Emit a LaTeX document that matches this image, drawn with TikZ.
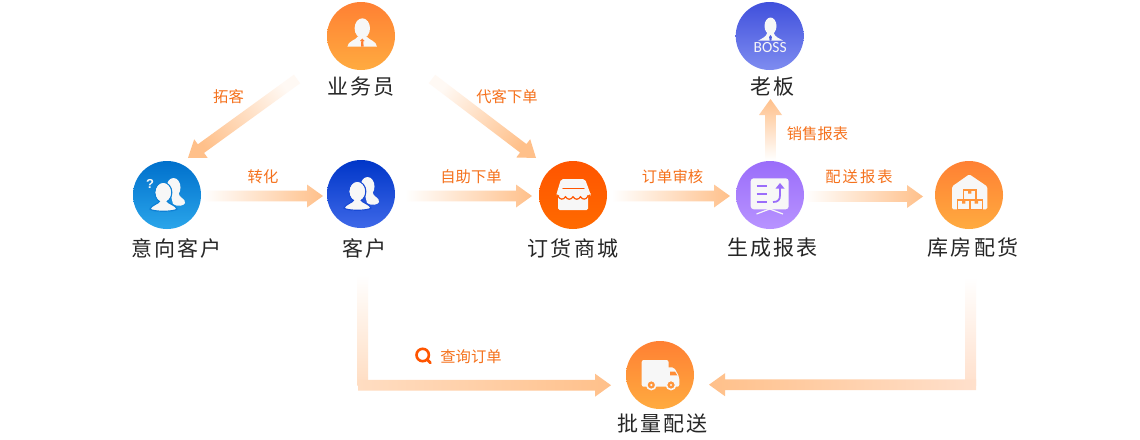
\documentclass[tikz,border=0pt]{standalone}
\usepackage{fontspec}
\usetikzlibrary{calc}
\setmainfont{Liberation Sans}
\newfontfamily\darkfont[LetterSpace=10]{Noto Sans CJK SC}
\newfontfamily\orgfont{Noto Sans CJK SC}
\newfontfamily\orgwide[LetterSpace=13]{Noto Sans CJK SC}
\newfontfamily\bossfont{Carlito}
\definecolor{arrowc}{HTML}{FFC08A}
\definecolor{icw}{HTML}{F7F7F7}
\definecolor{lab}{HTML}{F5711C}
\definecolor{tA}{HTML}{FFDDC2}\definecolor{tB}{HTML}{FFE0CC}\definecolor{tC}{HTML}{FFF9F4}
\definecolor{oA}{HTML}{FF8033}\definecolor{oB}{HTML}{FFAB40}
\definecolor{bA}{HTML}{0070CC}\definecolor{bB}{HTML}{2AA5EA}
\definecolor{dA}{HTML}{0036C8}\definecolor{dB}{HTML}{3E68E8}
\definecolor{rA}{HTML}{FF5500}\definecolor{rB}{HTML}{FF6A00}
\definecolor{pA}{HTML}{9A6DFA}\definecolor{pB}{HTML}{B893FF}
\definecolor{iA}{HTML}{4050DC}\definecolor{iB}{HTML}{7E8CF0}
\tikzset{
  ball/.style={circle,minimum size=68pt,inner sep=0pt,outer sep=0pt},
  title/.style={font=\darkfont\fontsize{21}{24}\selectfont,text=black!85,inner sep=0pt},
  tag/.style={font=\orgfont\fontsize{15.3}{18}\selectfont,text=lab,inner sep=0pt},
  tagw/.style={font=\orgwide\fontsize{15.3}{18}\selectfont,text=lab,inner sep=0pt},
}
% gradient block arrow between two named coordinates
\newcommand{\garrow}[4][white]{%
  \path let \p1=($(#3)-(#2)$),\n1={atan2(\y1,\x1)},\n2={veclen(\x1,\y1)} in
    \pgfextra{\xdef\gang{\n1}\xdef\glen{\n2}};
  \pgfmathsetmacro{\gshad}{\gang-90}
  \shade[shift={(#2)},rotate=\gang,bottom color=#1,top color=#4,shading angle=\gshad]
    (0,-5.3) -- (\glen-16,-5.3) -- (\glen-16,-11.5) -- (\glen,0) -- (\glen-16,11.5)
    -- (\glen-16,5.3) -- (0,5.3) -- cycle;
}
\newcommand{\groupicon}[1]{%
  \fill[icw] (6.5,-7.5) ellipse [x radius=7,y radius=9.5];
  \fill[icw] (3,-3) -- (11,-3) .. controls (12,3) and (19,4) .. (18,8)
    .. controls (17,11) and (10,12) .. (6,9) -- cycle;
  \fill[icw,draw=#1,line width=1.2pt] (-3.7,-2.5) ellipse [x radius=8.5,y radius=10];
  \fill[icw,draw=#1,line width=1.2pt] (-17,14) .. controls (-16,10) and (-8,9) .. (-6.5,5)
    -- (-1,5) .. controls (1,9) and (9,10) .. (10,14)
    .. controls (8,17) and (-15,17) .. (-17,14) -- cycle;
  \fill[icw] (-3.7,-2.5) ellipse [x radius=7.5,y radius=9.5];
  \fill[icw] (-6.3,3) rectangle (-1.2,8);
}
\begin{document}
\begin{tikzpicture}[x=1pt,y=-1pt]
\useasboundingbox (0,0) rectangle (1140,439);
\fill[white] (0,0) rectangle (1140,439);

% balls
\node[ball,top color=oA,bottom color=oB] (ywy) at (361,36) {};
\node[ball,top color=bA,bottom color=bB] (yxkh) at (167,195) {};
\node[ball,top color=dA,bottom color=dB] (kh) at (361,194) {};
\node[ball,top color=rA,bottom color=rB] (dhsc) at (573,195) {};
\node[ball,top color=pA,bottom color=pB] (scbb) at (770,195) {};
\node[ball,top color=iA,bottom color=iB] (lb) at (769.7,36) {};
\node[ball,top color=oA,bottom color=oB] (kfph) at (969,195) {};
\node[ball,top color=oA,bottom color=oB] (plps) at (660,375) {};

% titles
\node[title] (tywy) at (361,87) {业务员};
\node[title] (tyxkh) at (176.7,248) {意向客户};
\node[title] (tkh) at (364.5,248) {客户};
\node[title] (tdhsc) at (573,248) {订货商城};
\node[title] (tscbb) at (772.5,248) {生成报表};
\node[title] (tlb) at (772.5,87) {老板};
\node[title] (tkfph) at (973,248) {库房配货};
\node[title] (tplps) at (662.5,424) {批量配送};

% tags
\node[tag] (l1) at (228.5,97) {拓客};
\node[tag] (l2) at (263,176.5) {转化};
\node[tag] (l3) at (507,96.5) {代客下单};
\node[tag] (l4) at (471,176.5) {自助下单};
\node[tag] (l5) at (672.5,176.5) {订单审核};
\node[tagw] (l6) at (859,176.5) {配送报表};
\node[tag] (l7) at (817.5,133.5) {销售报表};
\node[tag] (l8) at (471,356.5) {查询订单};

% connector ends
\coordinate (a1s) at (297,79);   \coordinate (a1t) at (188,158);
\coordinate (a2s) at (432,79);   \coordinate (a2t) at (536,158);
\coordinate (a3s) at (203,196);  \coordinate (a3t) at (323,196);
\coordinate (a4s) at (405,196);  \coordinate (a4t) at (532,196);
\coordinate (a5s) at (612,196);  \coordinate (a5t) at (730,196);
\coordinate (a6s) at (805,196.5);\coordinate (a6t) at (923,196.5);
\coordinate (a7s) at (770.5,160);\coordinate (a7t) at (770.5,99);
\coordinate (b3)  at (358,385.2);\coordinate (b4)  at (611,385.2);
\coordinate (c3)  at (976,384.7);\coordinate (c4)  at (709,384.7);

\garrow[tC]{a1s}{a1t}{arrowc}
\garrow[tC]{a2s}{a2t}{arrowc}
\garrow{a3s}{a3t}{arrowc}
\garrow{a4s}{a4t}{arrowc}
\garrow{a5s}{a5t}{arrowc}
\garrow{a6s}{a6t}{arrowc}
\garrow{a7s}{a7t}{arrowc}

% bent connectors
\shade[bottom color=white,top color=tA,shading angle=180] (357.4,275) rectangle (368,385);
\garrow[tA]{b3}{b4}{arrowc}
\shade[bottom color=white,top color=tB,shading angle=180] (965.5,277) rectangle (976,385);
\garrow[tB]{c3}{c4}{arrowc}

% search icon
\draw[rA,line width=2.6pt] (422.7,355) circle [radius=6.2];
\draw[rA,line width=2.8pt,line cap=round] (427.3,359.5) -- (430.3,362.8);

% salesman icon
\begin{scope}[shift={(ywy.center)}]
  \fill[icw] (1.3,-7.7) ellipse [x radius=7.7,y radius=10];
  \fill[icw] (-13.7,10.7) .. controls (-13,5) and (-5,4) .. (-3,0.5) -- (5.5,0.5)
    .. controls (8,4) and (15.5,5) .. (16,10.7) -- cycle;
  \fill[oA] (1.3,2.5) -- (3.6,5) -- (2.3,5) -- (2.6,10.7) -- (0,10.7) -- (0.3,5) -- (-1,5) -- cycle;
\end{scope}

% boss icon
\begin{scope}[shift={(lb.center)}]
  \fill[icw] (0.8,-10) ellipse [x radius=6,y radius=8.5];
  \fill[icw] (-11.5,4.7) .. controls (-8,2.5) and (-3.5,1) .. (-2.5,-3) -- (4,-3)
    .. controls (5,1) and (10,2.5) .. (13.5,4.7) -- cycle;
  \fill[iA!80!iB] (0.8,-1) -- (2.2,1) -- (1.6,4.7) -- (0,4.7) -- (-0.6,1) -- cycle;
  \node[font=\bossfont\fontsize{15.5}{16}\selectfont,text=icw,inner sep=0pt] (bosst) at (0.5,12) {BOSS};
\end{scope}

% group icons
\begin{scope}[shift={(kh.center)}]
  \groupicon{dA!60!dB}
\end{scope}
\begin{scope}[shift={(yxkh.center)}]
  \groupicon{bA!70!bB}
  \node[font=\bfseries\fontsize{13}{14}\selectfont,text=icw,inner sep=0pt] (qm) at (-17,-11) {?};
\end{scope}

% shop icon
\begin{scope}[shift={(dhsc.center)}]
  \fill[icw,rounded corners=1.5pt] (-15,0) rectangle (15,15);
  \fill[icw,rounded corners=2pt] (-12,-16) -- (12,-16) -- (17.5,-1) -- (17.5,0) -- (-16.5,0) -- (-16.5,-1) -- cycle;
  \draw[rA,line width=1.3pt,line cap=round] (-10,-6.3) -- (11,-6.3);
  \draw[rA,line width=1.2pt] (-15,1.2) .. controls (-13,5) and (-9.5,5) .. (-7.5,1.8)
    .. controls (-5.5,5) and (-2,5) .. (0,1.8)
    .. controls (2,5) and (5.5,5) .. (7.5,1.8)
    .. controls (9.5,5) and (13,5) .. (15,1.2);
\end{scope}

% report icon
\begin{scope}[shift={(scbb.center)}]
  \fill[icw,rounded corners=3pt] (-19.3,-16.7) rectangle (18.7,14.3);
  \draw[icw,line width=1.2pt] (-13.5,19) -- (-0.3,14) -- (13,19);
  \draw[pA,line width=1.8pt] (-13.3,-9) -- (-3.3,-9) (-13.3,-1) -- (-3.3,-1) (-13.3,6.7) -- (-3.3,6.7);
  \draw[pA,line width=1.8pt] (3,7) .. controls (8,7) and (10,5) .. (10,0) -- (10,-8);
  \fill[pA] (10,-12) -- (14.5,-6.5) -- (5.5,-6.5) -- cycle;
\end{scope}

% warehouse icon
\begin{scope}[shift={(kfph.center)}]
  \fill[icw,rounded corners=1.5pt] (-17,14.3) -- (-17,-8.5) -- (0.3,-20.7) -- (18.3,-8.5) -- (18.3,14.3) -- cycle;
  \draw[oA!50!oB,line width=1.3pt,fill=icw] (-5.7,-5) rectangle (7,5);
  \draw[oA!50!oB,line width=1.3pt,fill=icw] (-11.7,5) rectangle (1,14.8);
  \draw[oA!50!oB,line width=1.3pt,fill=icw] (1,5) rectangle (13.7,14.8);
  \fill[oA!50!oB] (-1,-5) rectangle (2.3,-1.5) (-7,5) rectangle (-3.7,8.5) (5.7,5) rectangle (9,8.5);
\end{scope}

% truck icon
\begin{scope}[shift={(plps.center)}]
  \fill[icw,rounded corners=2pt] (-18.3,-15) rectangle (8.5,11.7);
  \fill[icw,rounded corners=2pt] (5,-7.7) -- (14,-7.7) -- (19.3,2) -- (19.3,11.7) -- (5,11.7) -- cycle;
  \fill[oA!70!oB] (10,-3.3) -- (15,-3.3) -- (17.3,0.3) -- (10,0.3) -- cycle;
  \fill[oA!50!oB,draw=icw,line width=1.6pt] (-8.7,10) circle [radius=4.6];
  \fill[oA!50!oB,draw=icw,line width=1.6pt] (11,10) circle [radius=4.6];
  \fill[icw] (-8.7,10) circle [radius=1.2] (11,10) circle [radius=1.2];
\end{scope}
\end{tikzpicture}
\end{document}
